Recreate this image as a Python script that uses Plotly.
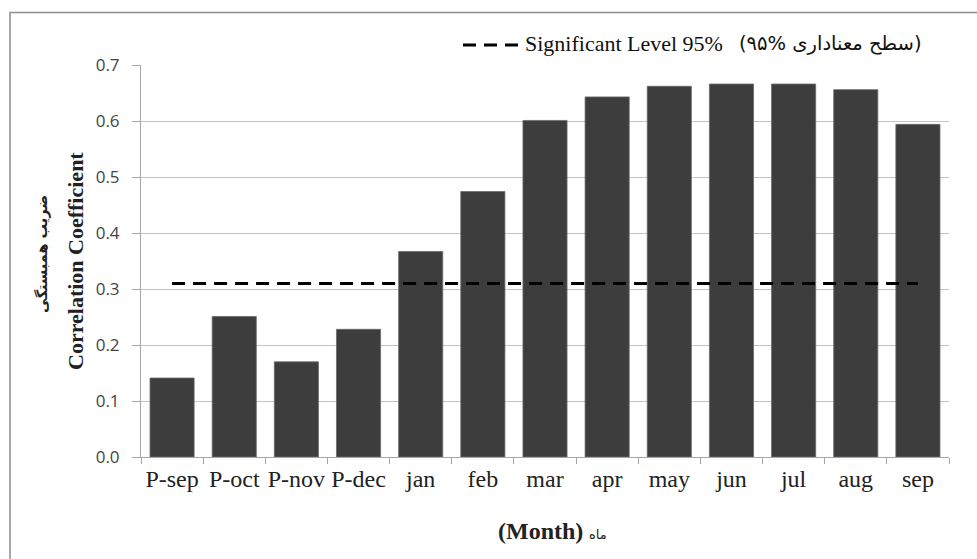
import plotly.graph_objects as go

months = ["P-sep", "P-oct", "P-nov", "P-dec", "jan", "feb", "mar",
          "apr", "may", "jun", "jul", "aug", "sep"]
correlation = [0.141, 0.251, 0.170, 0.228, 0.367, 0.474, 0.601,
               0.643, 0.662, 0.666, 0.666, 0.656, 0.594]
significant_level = [0.31] * len(months)

legend_en = "Significant Level 95%"
legend_fa = "(سطح معناداری %۹۵)"
y_title_fa = "ضریب همبستگی"
y_title_en = "Correlation Coefficient"
x_title_en = "Month"
x_title_fa = "ماه"

L, R, T, B = 141, 28, 65, 102
PW, PH = 977 - L - R, 559 - T - B


def px(x):
    return (x - L) / PW


def py(y):
    return (559 - B - y) / PH


fig = go.Figure()
fig.add_trace(go.Bar(
    x=months, y=correlation,
    marker=dict(color="#3d3d3d", line=dict(color="#6a6a6a", width=0.8)),
    showlegend=False,
))
fig.add_trace(go.Scatter(
    x=months, y=significant_level, mode="lines",
    line=dict(color="black", width=3, dash="13px,8px"),
    name=legend_en + " " + legend_fa, showlegend=False,
))

serif = "Liberation Serif, Times New Roman, serif"

fig.update_layout(
    width=977, height=559,
    margin=dict(l=L, r=R, t=T, b=B),
    paper_bgcolor="white", plot_bgcolor="white",
    bargap=0.29,
    xaxis=dict(
        type="category",
        showline=True, linecolor="#a6a6a6", linewidth=1,
        ticks="outside", tickson="boundaries", ticklen=6, tickcolor="#a6a6a6",
        tickangle=0,
        tickfont=dict(family=serif, size=24, color="#222"),
        showgrid=False,
    ),
    yaxis=dict(
        range=[0, 0.7], dtick=0.1, tickformat=".1f",
        showline=True, linecolor="#a6a6a6", linewidth=1,
        ticks="outside", ticklen=8, tickcolor="#a6a6a6",
        ticklabelstandoff=9,
        tickfont=dict(family="Open Sans, DejaVu Sans, sans-serif", size=17, color="#444"),
        showgrid=True, gridcolor="#c4c4c4", gridwidth=1,
        zeroline=False,
    ),
    annotations=[
        dict(text="<b>" + y_title_fa + "</b>", xref="paper", yref="paper",
             x=px(42), y=py(254), xanchor="center", yanchor="middle",
             textangle=-90, showarrow=False,
             font=dict(family="DejaVu Sans, sans-serif", size=14.5, color="#222")),
        dict(text="<b>" + y_title_en + "</b>", xref="paper", yref="paper",
             x=px(75), y=py(261), xanchor="center", yanchor="middle",
             textangle=-90, showarrow=False,
             font=dict(family=serif, size=22, color="#222")),
        dict(text="<b>(" + x_title_en + ")</b>", xref="paper", yref="paper",
             x=px(585), y=py(531), xanchor="right", yanchor="middle",
             showarrow=False,
             font=dict(family=serif, size=24, color="#222")),
        dict(text=x_title_fa, xref="paper", yref="paper",
             x=px(587), y=py(534), xanchor="left", yanchor="middle",
             showarrow=False,
             font=dict(family="DejaVu Sans, sans-serif", size=13, color="#222")),
        dict(text=legend_en, xref="paper", yref="paper",
             x=px(523), y=py(44), xanchor="left", yanchor="middle",
             showarrow=False,
             font=dict(family=serif, size=22, color="#111")),
        dict(text=legend_fa, xref="paper", yref="paper",
             x=px(923), y=py(44), xanchor="right", yanchor="middle",
             showarrow=False,
             font=dict(family="DejaVu Sans, sans-serif", size=19.5, color="#111")),
    ],
    shapes=[
        dict(type="rect", xref="paper", yref="paper",
             x0=px(10), x1=px(990), y0=py(570), y1=py(12.5),
             line=dict(color="#8c8c8c", width=1.5), fillcolor="rgba(0,0,0,0)",
             layer="below"),
        dict(type="line", xref="paper", yref="paper",
             x0=px(463), x1=px(518), y0=py(45), y1=py(45),
             line=dict(color="black", width=3, dash="13px,8px")),
    ],
)

fig.write_html("out.html", config={"displayModeBar": False},
               post_script="document.body.style.margin='0';")
